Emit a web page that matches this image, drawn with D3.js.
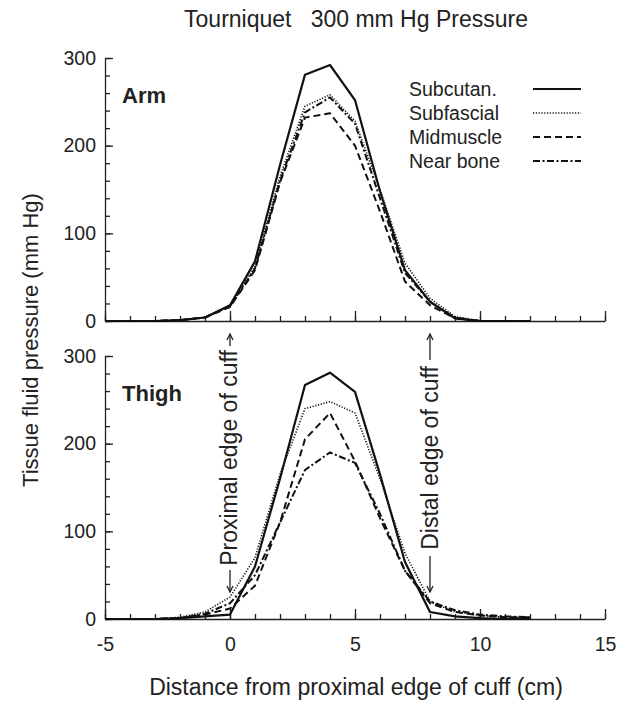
<!DOCTYPE html>
<html><head><meta charset="utf-8">
<script src="https://cdn.jsdelivr.net/npm/d3@7"></script>
<style>body{margin:0;background:#fff}svg{display:block}text{font-family:"Liberation Sans",Arial,sans-serif;fill:#222}</style>
</head><body><svg id="c" width="621" height="706"></svg>
<script>
// Distance from proximal edge of cuff (cm)
const distance = [-5,-4,-3,-2,-1,0,1,2,3,4,5,6,7,8,9,10,11,12];
const seriesNames = ["Subcutan.","Subfascial","Midmuscle","Near bone"];
// Arm, tissue fluid pressure (mm Hg)
const armSubcutan   = [0,0,0,1,4,18,68,178,281,292,252,148,58,22,3,0,0,0];
const armSubfascial = [0,0,0,1,4,17,62,165,245,258,228,150,66,26,5,0,0,0];
const armMidmuscle  = [0,0,0,1,4,16,58,158,232,237,200,125,45,18,3,0,0,0];
const armNearBone   = [0,0,0,1,4,17,60,160,238,255,225,140,55,22,4,0,0,0];
// Thigh, tissue fluid pressure (mm Hg)
const thighSubcutan   = [0,0,0,1,3,5,60,160,267,281,259,165,65,8,3,1,0,0];
const thighSubfascial = [0,0,0,2,8,25,70,165,240,248,235,160,75,20,8,4,2,1];
const thighMidmuscle  = [0,0,0,1,5,12,38,110,205,235,180,115,55,18,8,4,2,2];
const thighNearBone   = [0,0,0,1,6,18,50,110,170,190,178,120,55,20,10,5,3,2];
const xTicksMajor = [-5,0,5,10,15];
const yTicksMajor = [0,100,200,300];

const svg = d3.select("#c");
const x = d3.scaleLinear().domain([-5,15]).range([105,605]);
const styles = [
  {w:2.2, dash:null},
  {w:1.6, dash:"1.2,1.6"},
  {w:2.0, dash:"7,4"},
  {w:2.0, dash:"7,2.5,2,2.5"}
];
const panels = [
  {name:"Arm", data:[armSubcutan,armSubfascial,armMidmuscle,armNearBone], y:d3.scaleLinear().domain([0,300]).range([321,58]), labels:false},
  {name:"Thigh", data:[thighSubcutan,thighSubfascial,thighMidmuscle,thighNearBone], y:d3.scaleLinear().domain([0,300]).range([619,356]), labels:true}
];
const tickFont = 19.5, bigFont = 23;

panels.forEach(p => {
  const g = svg.append("g");
  const y = p.y;
  g.append("g").attr("transform","translate(105,0)")
    .call(d3.axisLeft(y).tickValues(d3.range(0,301,20)).tickSize(-5).tickFormat(""))
    .call(a=>a.select(".domain").remove());
  g.append("g").attr("transform","translate(105,0)")
    .call(d3.axisLeft(y).tickValues(yTicksMajor).tickSize(-8).tickSizeOuter(0).tickPadding(9).tickFormat(d=>String(d)))
    .call(a=>a.selectAll("text").attr("font-size",tickFont).style("fill","#222"));
  g.append("g").attr("transform",`translate(0,${y(0)})`)
    .call(d3.axisBottom(x).tickValues(d3.range(-5,16,1)).tickSize(-5).tickFormat(""))
    .call(a=>a.select(".domain").remove());
  const xa = g.append("g").attr("transform",`translate(0,${y(0)})`)
    .call(d3.axisBottom(x).tickValues(xTicksMajor).tickSize(-10).tickSizeOuter(0).tickPadding(18).tickFormat(d=>String(d)));
  xa.selectAll("text").attr("font-size",tickFont).style("fill","#222");
  if(!p.labels) xa.selectAll("text").remove();
  svg.selectAll(".tick line, .domain").attr("stroke","#222").attr("stroke-width",1.3);

  const line = d3.line().x((d,i)=>x(distance[i])).y(d=>y(d));
  p.data.forEach((s,k)=>{
    g.append("path").attr("d",line(s)).attr("fill","none").attr("stroke","#111")
      .attr("stroke-width",styles[k].w).attr("stroke-dasharray",styles[k].dash)
      .attr("stroke-linejoin","round");
  });
  g.append("text").attr("x",122).attr("y",y(300)+45).attr("font-size",22).attr("font-weight","bold").text(p.name);
});

// legend
seriesNames.forEach((n,k)=>{
  const yy = 89 + k*24;
  svg.append("text").attr("x",409).attr("y",yy+7).attr("font-size",tickFont).text(n);
  svg.append("line").attr("x1",533).attr("x2",581).attr("y1",yy).attr("y2",yy)
    .attr("stroke","#111").attr("stroke-width",styles[k].w).attr("stroke-dasharray",styles[k].dash);
});

// titles
svg.append("text").attr("x",356).attr("y",27).attr("text-anchor","middle").attr("font-size",bigFont)
  .attr("xml:space","preserve").text("Tourniquet   300 mm Hg Pressure");
svg.append("text").attr("x",356).attr("y",695).attr("text-anchor","middle").attr("font-size",bigFont)
  .text("Distance from proximal edge of cuff (cm)");
svg.append("text").attr("transform","translate(38,340) rotate(-90)").attr("text-anchor","middle").attr("font-size",22)
  .text("Tissue fluid pressure (mm Hg)");

// cuff edge annotations
function arrow(x0,y1,y2){
  svg.append("line").attr("x1",x0).attr("x2",x0).attr("y1",y1).attr("y2",y2).attr("stroke","#222").attr("stroke-width",1.3);
  const d = y2>y1?1:-1;
  svg.append("path").attr("d",`M${x0-3},${y2-6*d}L${x0},${y2}L${x0+3},${y2-6*d}`).attr("fill","none").attr("stroke","#222").attr("stroke-width",1.3);
}
const px = x(0), dx = x(8);
svg.append("text").attr("transform",`translate(${px+7},458) rotate(-90)`).attr("text-anchor","middle").attr("font-size",bigFont).text("Proximal edge of cuff");
arrow(px, 570, 592); arrow(px, 346, 334);
svg.append("text").attr("transform",`translate(${dx+8},458) rotate(-90)`).attr("text-anchor","middle").attr("font-size",bigFont).text("Distal edge of cuff");
arrow(dx, 556, 592); arrow(dx, 360, 334);
</script></body></html>
